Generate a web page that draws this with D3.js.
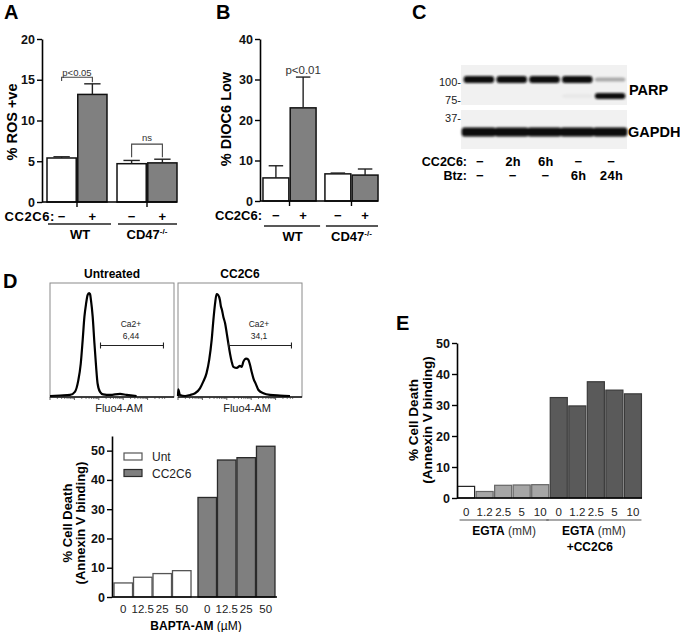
<!DOCTYPE html>
<html><head><meta charset="utf-8">
<script src="https://cdn.jsdelivr.net/npm/d3@7"></script>
<style>body{margin:0;background:#fff}svg{display:block;font-family:"Liberation Sans",Arial,sans-serif}</style>
</head><body><svg id="c" width="680" height="632"></svg>
<script>
// ---------- DATA ----------
const genotypes = ["WT", "CD47"];
const treatments = ["−", "+"];
const rosMean = [5.4, 13.2, 4.7, 4.8];
const rosErrTop = [5.55, 14.5, 5.1, 5.25];
const diocMean = [5.7, 23.0, 6.7, 6.4];
const diocErrTop = [8.7, 30.6, 6.9, 7.9];
const rosTicks = [0, 5, 10, 15, 20];
const diocTicks = [0, 10, 20, 30, 40];

const blotLanes = ["L1", "L2", "L3", "L4", "L5"];
const blotCC2C6 = ["−", "2h", "6h", "−", "−"];
const blotBtz = ["−", "−", "−", "6h", "24h"];
const parpFull = [1, 1, 1, 1, 0.3];
const parpCleaved = [0, 0, 0, 0.04, 1];
const gapdhBand = [1, 1, 1, 1, 1];
const mwMarkers = ["100-", "75-", "37-"];

// flow histograms: x = log10 Fluo4-AM, y = % of max
const untX = [0, 0.41, 0.82, 1.02, 1.16, 1.26, 1.34, 1.41, 1.48, 1.54, 1.60, 1.64, 1.68, 1.75, 1.82, 1.89, 1.95, 2.05, 2.18, 2.46, 2.87, 3.14, 3.55];
const untY = [0, 0.5, 1, 4, 15, 31, 54, 76, 89, 97, 99, 98, 92, 76, 51, 28, 12, 4, 1.6, 1, 2, 1, 0];
const ccX = [0, 0.01, 0.08, 0.29, 0.49, 0.70, 0.90, 1.04, 1.17, 1.28, 1.38, 1.45, 1.52, 1.58, 1.65, 1.72, 1.76, 1.80, 1.86, 1.93, 2.00, 2.06, 2.13, 2.20, 2.27, 2.41, 2.54, 2.61, 2.68, 2.79, 2.88, 2.95, 3.02, 3.09, 3.20, 3.29, 3.50, 3.77, 4.18, 4.59];
const ccY = [0, 6.4, 1, 0, 1, 2.6, 7.4, 14, 22, 35, 54, 73, 89, 98, 97, 92, 86, 83, 76, 70, 60, 51, 41, 33, 28, 27, 29, 28, 33, 36, 35, 30, 23, 17, 11, 6, 2.6, 1, 0.4, 0];
const gateRange = [2.07, 4.65];
const gateUnt = "6,44";
const gateCC = "34,1";

const baptaGroups = ["Unt", "CC2C6"];
const baptaDoses = ["0", "12.5", "25", "50"];
const baptaUnt = [4.8, 6.75, 8.0, 9.0];
const baptaCC = [34.0, 46.8, 47.6, 51.5];
const baptaTicks = [0, 10, 20, 30, 40, 50];

const egtaDoses = ["0", "1.2", "2.5", "5", "10"];
const egtaAlone = [3.75, 2.1, 4.1, 4.2, 4.3];
const egtaCC = [32.4, 29.7, 37.5, 34.8, 33.6];
const egtaTicks = [0, 10, 20, 30, 40, 50];

// ---------- DRAW ----------
const svg = d3.select("#c");
svg.append("rect").attr("width", 680).attr("height", 632).attr("fill", "#fff");
const defs = svg.append("defs");
defs.append("filter").attr("id", "blur").attr("x", "-20%").attr("y", "-100%").attr("width", "140%").attr("height", "300%")
  .append("feGaussianBlur").attr("stdDeviation", 1.3);

function panelLetter(t, x, y) {
  svg.append("text").attr("x", x).attr("y", y).attr("font-size", 20).attr("font-weight", "bold").text(t);
}
function leftAxis(scale, x, ticks) {
  const g = svg.append("g").attr("transform", `translate(${x},0)`)
    .call(d3.axisLeft(scale).tickValues(ticks).tickSize(5).tickSizeOuter(0).tickPadding(2));
  g.select(".domain").attr("stroke", "#000").attr("stroke-width", 1.6);
  g.selectAll(".tick line").attr("stroke", "#000").attr("stroke-width", 1.4);
  g.selectAll(".tick text").attr("font-size", 12.5).attr("font-weight", "bold").attr("fill", "#111")
    .attr("font-family", '"Liberation Sans",Arial,sans-serif');
  return g;
}
function rotLabel(lines, x0, dx, cy, size) {
  lines.forEach((l, i) => {
    svg.append("text").attr("transform", `translate(${x0 + i * dx},${cy}) rotate(-90)`)
      .attr("text-anchor", "middle").attr("font-size", size).attr("font-weight", "bold").text(l);
  });
}

// ----- Panels A & B -----
function barPanel(cfg) {
  const y = d3.scaleLinear([0, cfg.max], [cfg.y0, cfg.y1]);
  const xg = d3.scaleBand(genotypes, cfg.xr).paddingInner(cfg.pi).paddingOuter(cfg.po);
  const xc = d3.scaleBand(treatments, [0, xg.bandwidth()]).paddingInner(0.05);
  const items = cfg.mean.map((m, i) => ({ g: genotypes[Math.floor(i / 2)], t: treatments[i % 2], m, e: cfg.err[i] }));
  const bx = d => xg(d.g) + xc(d.t);
  const bw = xc.bandwidth();
  svg.append("g").selectAll("rect").data(items).join("rect")
    .attr("x", bx).attr("y", d => y(d.m)).attr("width", bw).attr("height", d => y(0) - y(d.m))
    .attr("fill", d => d.t === "+" ? "#808080" : "#fff").attr("stroke", "#111").attr("stroke-width", 1.5);
  const eg = svg.append("g").attr("stroke", "#222").attr("stroke-width", 1.4);
  items.forEach(d => {
    const cx = bx(d) + bw / 2;
    eg.append("line").attr("x1", cx).attr("x2", cx).attr("y1", y(d.m)).attr("y2", y(d.e));
    eg.append("line").attr("x1", cx - bw * 0.28).attr("x2", cx + bw * 0.28).attr("y1", y(d.e)).attr("y2", y(d.e));
  });
  leftAxis(y, cfg.xr[0], cfg.ticks);
  const lastRight = bx(items[3]) + bw;
  svg.append("line").attr("x1", cfg.xr[0]).attr("x2", lastRight).attr("y1", y(0)).attr("y2", y(0))
    .attr("stroke", "#000").attr("stroke-width", 1.6);
  genotypes.forEach(g => {
    const cx = xg(g) + xg.bandwidth() / 2;
    svg.append("line").attr("x1", cx).attr("x2", cx).attr("y1", y(0)).attr("y2", y(0) + 5).attr("stroke", "#000").attr("stroke-width", 1.4);
  });
  // CC2C6 row
  svg.append("text").attr("x", cfg.lblX).attr("y", cfg.rowY).attr("text-anchor", "end")
    .attr("font-size", 13).attr("letter-spacing", cfg.ls).attr("font-weight", "bold").text("CC2C6:");
  items.forEach(d => {
    svg.append("text").attr("x", bx(d) + bw / 2).attr("y", cfg.rowY).attr("text-anchor", "middle")
      .attr("font-size", 13).attr("font-weight", "bold").text(d.t);
  });
  genotypes.forEach((g, i) => {
    const x0 = xg(g) + 1, x1 = xg(g) + xg.bandwidth() + (i === 0 ? 4 : 0);
    svg.append("line").attr("x1", x0).attr("x2", x1).attr("y1", cfg.lineY).attr("y2", cfg.lineY).attr("stroke", "#222").attr("stroke-width", 1.3);
    const t = svg.append("text").attr("x", xg(g) + xg.bandwidth() / 2 + (i === 0 ? 3 : 0)).attr("y", cfg.lineY + 15)
      .attr("text-anchor", "middle").attr("font-size", 13).attr("font-weight", "bold");
    if (g === "WT") t.text("WT");
    else { t.append("tspan").text("CD47"); t.append("tspan").attr("font-size", 8).attr("dy", -5).text("-/-"); }
  });
  return { y, xg, xc, items, bx, bw };
}

panelLetter("A", 4, 19);
const A = barPanel({ max: 20, y0: 202, y1: 39, xr: [42, 182], pi: 0.143, po: 0.0714, mean: rosMean, err: rosErrTop, ticks: rosTicks, lblX: 55, rowY: 221, lineY: 224, ls: 0.6 });
rotLabel(["% ROS +ve"], 17, 0, 122, 14.5);
// brackets
function bracket(P, i, j, yv, lv, rv, label, ty, size) {
  const xi = P.bx(P.items[i]) + P.bw / 2, xj = P.bx(P.items[j]) + P.bw / 2;
  svg.append("path").attr("d", `M${xi},${P.y(lv)}V${P.y(yv)}H${xj}V${P.y(rv)}`)
    .attr("fill", "none").attr("stroke", "#444").attr("stroke-width", 1.1);
  svg.append("text").attr("x", (xi + xj) / 2).attr("y", P.y(ty)).attr("text-anchor", "middle")
    .attr("font-size", size).attr("fill", "#333").text(label);
}
bracket(A, 0, 1, 15.3, 14.85, 14.7, "p<0.05", 15.5, 9.5);
bracket(A, 2, 3, 7.1, 5.5, 5.5, "ns", 7.5, 9.5);

panelLetter("B", 216, 19);
const B = barPanel({ max: 40, y0: 201, y1: 39, xr: [260, 381], pi: 0.143, po: 0.048, mean: diocMean, err: diocErrTop, ticks: diocTicks, lblX: 262, rowY: 220, lineY: 226, ls: 0 });
rotLabel(["% DIOC6 Low"], 231, 0, 119, 14.5);
svg.append("text").attr("x", B.bx(B.items[1]) + B.bw / 2).attr("y", B.y(31.3)).attr("text-anchor", "middle")
  .attr("font-size", 11.5).attr("fill", "#333").text("p<0.01");

// ----- Panel C (blot) -----
panelLetter("C", 412, 19);
const lane = d3.scaleBand(blotLanes, [463, 626]).paddingInner(0.07).paddingOuter(0.02);
const rows = d3.scaleOrdinal(["p116", "p89", "gapdh"], [79.5, 96, 132]);
const rowH = d3.scaleOrdinal(["p116", "p89", "gapdh"], [7, 6, 9]);
svg.append("rect").attr("x", 461).attr("y", 65).attr("width", 166).attr("height", 40).attr("fill", "#f1f1f1");
svg.append("rect").attr("x", 461).attr("y", 110).attr("width", 166).attr("height", 39).attr("fill", "#f1f1f1");
const bandG = svg.append("g").attr("filter", "url(#blur)");
function bands(key, vals) {
  bandG.selectAll(null).data(vals).join("rect")
    .attr("x", (d, i) => lane(blotLanes[i]) - (key === "gapdh" ? 2 : 0))
    .attr("width", lane.bandwidth() + (key === "gapdh" ? 4 : 0))
    .attr("y", (d, i) => rows(key) - rowH(key) * (d < 0.5 ? 0.3 : 0.5))
    .attr("height", d => rowH(key) * (d < 0.5 ? 0.6 : 1))
    .attr("rx", 3)
    .attr("fill", "#0a0a0a").attr("fill-opacity", d => d);
}
bands("p116", parpFull);
bands("p89", parpCleaved);
bands("gapdh", gapdhBand);
const mwY = d3.scaleOrdinal(mwMarkers, [86, 104, 122]);
mwMarkers.forEach(m => svg.append("text").attr("x", 461).attr("y", mwY(m)).attr("text-anchor", "end").attr("font-size", 11).attr("fill", "#222").text(m));
svg.append("text").attr("x", 629).attr("y", 95).attr("font-size", 14.5).attr("font-weight", "bold").text("PARP");
svg.append("text").attr("x", 628).attr("y", 137).attr("font-size", 14.5).attr("font-weight", "bold").text("GAPDH");
[["CC2C6:", blotCC2C6, 166], ["Btz:", blotBtz, 180]].forEach(([lbl, vals, yy]) => {
  svg.append("text").attr("x", 467).attr("y", yy).attr("text-anchor", "end").attr("font-size", 12.5).attr("font-weight", "bold").text(lbl);
  vals.forEach((v, i) => svg.append("text").attr("x", lane(blotLanes[i]) + lane.bandwidth() / 2 + 1).attr("y", yy)
    .attr("text-anchor", "middle").attr("font-size", 13).attr("font-weight", "bold")
    .attr("font-family", '"Liberation Mono","DejaVu Sans Mono",monospace').text(v));
});

// ----- Panel D (histograms) -----
panelLetter("D", 3, 288);
function histo(x0, xs, ys, title, pct) {
  const hx = d3.scaleLinear([0, 5], [x0, x0 + 122]);
  const hy = d3.scaleLinear([0, 100], [396, 292]);
  svg.append("rect").attr("x", x0).attr("y", 283).attr("width", 124).attr("height", 114)
    .attr("fill", "none").attr("stroke", "#8a8a8a").attr("stroke-width", 1);
  svg.append("line").attr("x1", x0).attr("x2", x0 + 124).attr("y1", 397).attr("y2", 397).attr("stroke", "#111").attr("stroke-width", 1.3);
  const tk = [];
  for (let d = 0; d < 5; d++) for (let k = 1; k < 10; k++) { const v = d + Math.log10(k); if (v <= 4.75) tk.push({ v, major: k === 1 }); }
  svg.append("g").selectAll("line").data(tk).join("line")
    .attr("x1", d => hx(d.v)).attr("x2", d => hx(d.v)).attr("y1", 397).attr("y2", d => 397 + (d.major ? 3 : 1.8))
    .attr("stroke", "#333").attr("stroke-width", 0.8);
  svg.append("path").datum(xs.map((v, i) => [v, ys[i]]))
    .attr("d", d3.line().x(d => hx(d[0])).y(d => hy(d[1])).curve(d3.curveMonotoneX))
    .attr("fill", "none").attr("stroke", "#000").attr("stroke-width", 2.2).attr("stroke-linejoin", "round");
  const gy = 345.5;
  svg.append("path").attr("d", `M${hx(gateRange[0])},${gy}H${hx(gateRange[1])}M${hx(gateRange[0])},${gy - 3}V${gy + 3}M${hx(gateRange[1])},${gy - 3}V${gy + 3}`)
    .attr("stroke", "#222").attr("stroke-width", 1.1).attr("fill", "none");
  const tx = hx((gateRange[0] + gateRange[1]) / 2) - 1;
  svg.append("text").attr("x", tx).attr("y", 327).attr("text-anchor", "middle").attr("font-size", 8.5).attr("fill", "#222").text("Ca2+");
  svg.append("text").attr("x", tx).attr("y", 339).attr("text-anchor", "middle").attr("font-size", 8.5).attr("fill", "#222").text(pct);
  svg.append("text").attr("x", x0 + 62).attr("y", 278).attr("text-anchor", "middle").attr("font-size", 12).attr("font-weight", "bold").text(title);
  svg.append("text").attr("x", x0 + 69).attr("y", 412).attr("text-anchor", "middle").attr("font-size", 11).attr("fill", "#222").text("Fluo4-AM");
}
histo(50, untX, untY, "Untreated", gateUnt);
histo(178, ccX, ccY, "CC2C6", gateCC);

// ----- Panel D (bars) -----
const yD = d3.scaleLinear([0, 55], [597, 436]);
const xDg = d3.scaleBand(baptaGroups, [112, 277]).paddingInner(0.083).paddingOuter(0.024);
const xDi = d3.scaleBand(baptaDoses, [0, xDg.bandwidth()]).paddingInner(0.05);
const dItems = [];
baptaGroups.forEach((g, gi) => baptaDoses.forEach((d, di) => dItems.push({ g, d, v: (gi === 0 ? baptaUnt : baptaCC)[di] })));
svg.append("g").selectAll("rect").data(dItems).join("rect")
  .attr("x", d => xDg(d.g) + xDi(d.d)).attr("width", xDi.bandwidth())
  .attr("y", d => yD(d.v)).attr("height", d => yD(0) - yD(d.v))
  .attr("fill", d => d.g === "Unt" ? "#fff" : "#7f7f7f").attr("stroke", d => d.g === "Unt" ? "#555" : "#2a2a2a").attr("stroke-width", 1.3);
leftAxis(yD, 112, baptaTicks);
svg.append("line").attr("x1", 112).attr("x2", 277).attr("y1", yD(0)).attr("y2", yD(0)).attr("stroke", "#000").attr("stroke-width", 1.6);
dItems.forEach(d => svg.append("text").attr("x", xDg(d.g) + xDi(d.d) + xDi.bandwidth() / 2).attr("y", 613)
  .attr("text-anchor", "middle").attr("font-size", 11.5).attr("fill", "#222").text(d.d));
{
  const t = svg.append("text").attr("x", 196).attr("y", 630).attr("text-anchor", "middle").attr("font-size", 12);
  t.append("tspan").attr("font-weight", "bold").text("BAPTA-AM");
  t.append("tspan").text(" (µM)");
}
rotLabel(["% Cell Death", "(Annexin V binding)"], 72, 13, 523, 13);
// legend
[["Unt", "#fff", "#555", 453], ["CC2C6", "#7f7f7f", "#2a2a2a", 469.5]].forEach(([l, f, s, yy]) => {
  svg.append("rect").attr("x", 124).attr("y", yy).attr("width", 18).attr("height", 7).attr("fill", f).attr("stroke", s).attr("stroke-width", 1.2);
  svg.append("text").attr("x", 152).attr("y", yy + 8).attr("font-size", 12).attr("fill", "#222").text(l);
});

// ----- Panel E -----
panelLetter("E", 396, 330);
const yE = d3.scaleLinear([0, 50], [498, 343]);
const eKeys = [];
egtaDoses.forEach((d, i) => eKeys.push({ k: "a" + i, d, v: egtaAlone[i], grp: i === 0 ? "w" : "l" }));
egtaDoses.forEach((d, i) => eKeys.push({ k: "c" + i, d, v: egtaCC[i], grp: "d" }));
const xE = d3.scaleBand(eKeys.map(e => e.k), [457, 642]).paddingInner(0.08).paddingOuter(0.03);
const eFill = { w: "#fff", l: "#a6a6a6", d: "#5a5a5a" };
const eStroke = { w: "#222", l: "#666", d: "#3a3a3a" };
svg.append("g").selectAll("rect").data(eKeys).join("rect")
  .attr("x", d => xE(d.k)).attr("width", xE.bandwidth())
  .attr("y", d => yE(d.v)).attr("height", d => yE(0) - yE(d.v))
  .attr("fill", d => eFill[d.grp]).attr("stroke", d => eStroke[d.grp]).attr("stroke-width", 1.2);
leftAxis(yE, 457, egtaTicks);
svg.append("line").attr("x1", 457).attr("x2", 642).attr("y1", yE(0)).attr("y2", yE(0)).attr("stroke", "#000").attr("stroke-width", 1.6);
eKeys.forEach(d => svg.append("text").attr("x", xE(d.k) + xE.bandwidth() / 2).attr("y", 516)
  .attr("text-anchor", "middle").attr("font-size", 11.5).attr("fill", "#222").text(d.d));
[[0, 4], [5, 9]].forEach(([a, b], gi) => {
  const x0 = xE(eKeys[a].k) + (gi === 0 ? 2 : -4), x1 = xE(eKeys[b].k) + xE.bandwidth();
  svg.append("line").attr("x1", x0).attr("x2", x1).attr("y1", 520).attr("y2", 520).attr("stroke", "#555").attr("stroke-width", 1.1);
  const cx = (x0 + x1) / 2;
  const t = svg.append("text").attr("x", cx).attr("y", 535).attr("text-anchor", "middle").attr("font-size", 12);
  t.append("tspan").attr("font-weight", "bold").text("EGTA");
  t.append("tspan").attr("fill", "#333").text(" (mM)");
  if (gi === 1) svg.append("text").attr("x", cx - 4).attr("y", 551).attr("text-anchor", "middle").attr("font-size", 12).attr("font-weight", "bold").text("+CC2C6");
});
rotLabel(["% Cell Death", "(Annexin V binding)"], 418, 14, 420, 13.5);
</script></body></html>
